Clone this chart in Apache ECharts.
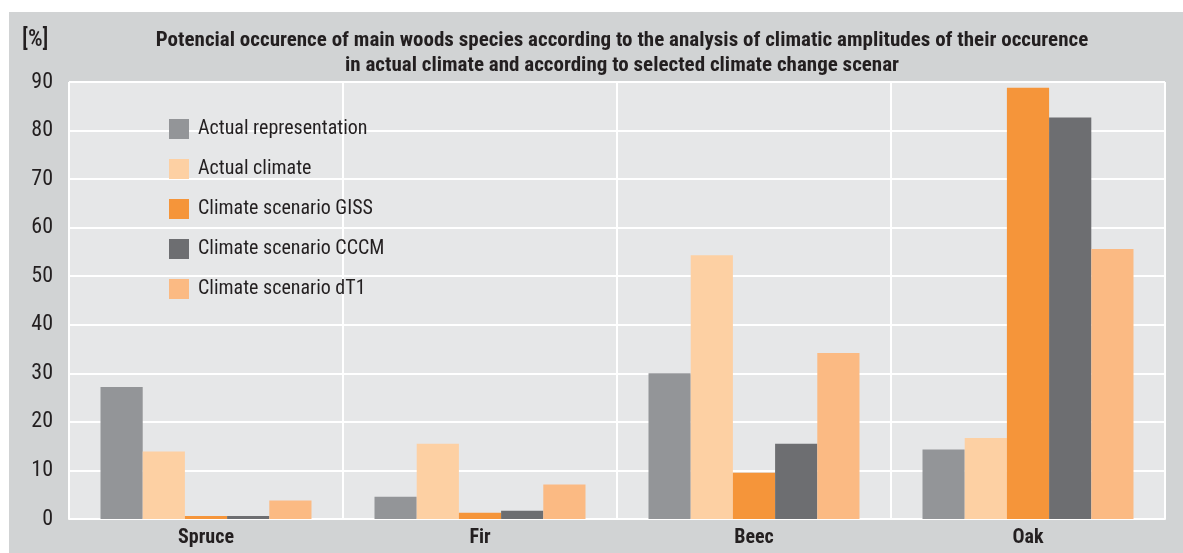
<!DOCTYPE html>
<html>
<head>
<meta charset="utf-8">
<script src="https://cdn.jsdelivr.net/npm/echarts@6/dist/echarts.min.js"></script>
<style>
  html, body { margin: 0; padding: 0; background: #ffffff; }
  #chart { width: 1183px; height: 553px; }
</style>
</head>
<body>
<div id="chart"></div>
<script>
// Species (categories)
const species = ['Spruce', 'Fir', 'Beec', 'Oak'];

// Share of potential occurrence [%] per species
const actualRepresentation = [27.2, 4.6, 30.0, 14.3];
const actualClimate        = [13.9, 15.5, 54.3, 16.7];
const scenarioGISS         = [0.6, 1.3, 9.5, 88.8];
const scenarioCCCM         = [0.6, 1.7, 15.5, 82.7];
const scenarioDT1          = [3.8, 7.1, 34.2, 55.6];

const seriesNames = [
  'Actual representation',
  'Actual climate',
  'Climate scenario GISS',
  'Climate scenario CCCM',
  'Climate scenario dT1'
];
const seriesData = [actualRepresentation, actualClimate, scenarioGISS, scenarioCCCM, scenarioDT1];
const seriesColors = ['#939598', '#fdd0a3', '#f5953a', '#6d6e71', '#fbba83'];

const yTicks = { min: 0, max: 90, interval: 10 };

// Narrow sans for all chart text
const FONT = '"Liberation Sans Narrow", "Roboto Condensed", "Arial Narrow", sans-serif';

const chart = echarts.init(document.getElementById('chart'), null, { renderer: 'canvas' });

chart.setOption({
  animation: false,
  backgroundColor: '#ffffff',
  graphic: [
    {
      type: 'rect',
      z: -10,
      shape: { x: 9, y: 12, width: 1174, height: 541 },
      style: { fill: '#d1d3d4' }
    },
    {
      type: 'text',
      left: 22,
      top: 29,
      style: { text: '[%]', fill: '#231f20', font: '500 23px ' + FONT }
    }
  ],
  title: {
    text: 'Potencial occurence of main woods species according to the analysis of climatic amplitudes of their occurence\nin actual climate and according to selected climate change scenar',
    left: 617,
    textAlign: 'center',
    top: 23,
    textStyle: {
      fontFamily: FONT,
      fontWeight: 'bold',
      fontSize: 21,
      lineHeight: 25,
      color: '#231f20'
    }
  },
  legend: {
    orient: 'vertical',
    left: 164,
    top: 114,
    itemWidth: 20,
    itemHeight: 20,
    itemGap: 20,
    icon: 'rect',
    textStyle: { fontFamily: FONT, fontSize: 20, color: '#231f20', padding: [0, 0, 0, 4] },
    data: seriesNames
  },
  grid: {
    left: 69,
    right: 18,
    top: 82,
    bottom: 34,
    show: true,
    backgroundColor: '#e6e7e8',
    borderWidth: 0
  },
  xAxis: {
    type: 'category',
    data: species,
    axisTick: { show: false },
    axisLine: { show: true, lineStyle: { color: '#ffffff', width: 2 } },
    axisLabel: {
      fontFamily: FONT,
      fontWeight: 'bold',
      fontSize: 20,
      color: '#231f20',
      margin: 9
    },
    splitLine: { show: true, lineStyle: { color: '#ffffff', width: 2 } }
  },
  yAxis: {
    type: 'value',
    min: yTicks.min,
    max: yTicks.max,
    interval: yTicks.interval,
    axisLine: { show: false },
    axisTick: { show: false },
    axisLabel: {
      fontFamily: FONT,
      fontSize: 22,
      color: '#231f20',
      margin: 16
    },
    splitLine: { show: true, lineStyle: { color: '#ffffff', width: 2 } }
  },
  series: seriesNames.map((name, i) => ({
    name: name,
    type: 'bar',
    data: seriesData[i],
    itemStyle: { color: seriesColors[i] },
    barGap: '0%',
    barCategoryGap: '23%'
  }))
});
</script>
</body>
</html>
